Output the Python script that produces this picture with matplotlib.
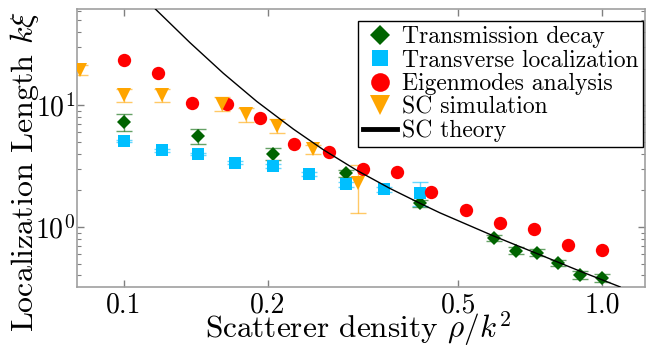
import matplotlib
matplotlib.use("Agg")
import matplotlib.pyplot as plt
from matplotlib.ticker import FixedLocator, FixedFormatter, NullLocator, LogLocator

plt.rcParams["font.family"] = "serif"
plt.rcParams["font.serif"] = ["cmr10"]
plt.rcParams["mathtext.fontset"] = "cm"
plt.rcParams["axes.unicode_minus"] = False

# Transmission decay
x_td = [0.1, 0.143, 0.205, 0.292, 0.416, 0.594, 0.66, 0.73, 0.807, 0.897, 1.0]
y_td = [7.3, 5.6, 4.0, 2.75, 1.56, 0.817, 0.64, 0.616, 0.51, 0.404, 0.384]
e_td = [1.2, 0.8, 0.47, 0.2, 0.1, 0.05, 0.04, 0.04, 0.03, 0.03, 0.03]

# Transverse localization
x_tl = [0.1, 0.12, 0.143, 0.171, 0.205, 0.244, 0.292, 0.349, 0.416]
y_tl = [5.1, 4.25, 3.97, 3.37, 3.18, 2.72, 2.25, 2.04, 1.91]
e_tl = [0.1, 0.1, 0.1, 0.1, 0.1, 0.1, 0.1, 0.1, 0.43]

# Eigenmodes analysis
x_eig = [0.1, 0.118, 0.139, 0.164, 0.193, 0.227, 0.268, 0.316, 0.373, 0.439, 0.518, 0.611, 0.72, 0.848, 1.0]
y_eig = [23.4, 18.4, 10.5, 10.3, 7.8, 4.85, 4.1, 2.98, 2.84, 1.95, 1.38, 1.07, 0.96, 0.71, 0.645]

# SC simulation
x_sc = [0.081, 0.1, 0.12, 0.16, 0.18, 0.209, 0.249, 0.309]
y_sc = [19.6, 12.1, 12.2, 10.3, 8.4, 6.8, 4.34, 2.28]
e_sc = [2.0, 1.5, 1.5, 1.3, 1.1, 0.9, 0.4, 0.97]

# SC theory curve
x_th = [0.1163, 0.1374, 0.1614, 0.1895, 0.2261, 0.2612, 0.3068, 0.3602, 0.4228, 0.458, 0.593, 0.742, 0.899, 1.09]
y_th = [61.8, 32.7, 18.3, 10.76, 6.37, 4.31, 2.92, 2.07, 1.517, 1.306, 0.843, 0.59, 0.4335, 0.322]

green = "#006400"
blue = "#00BFFF"
red = "#FF0000"
orange = "#FFA500"

fig = plt.figure(figsize=(6.51, 3.45), dpi=100)
ax = fig.add_axes([0.118, 0.168, 0.873, 0.806])
ax.set_xscale("log")
ax.set_yscale("log")

ebkw = dict(fmt="none", elinewidth=1.0, capsize=5.5, capthick=1.0, alpha=0.6)
ax.errorbar(x_td, y_td, yerr=e_td, ecolor=green, **ebkw)
ax.errorbar(x_tl, y_tl, yerr=e_tl, ecolor=blue, **ebkw)
ax.errorbar(x_sc, y_sc, yerr=e_sc, ecolor=orange, **ebkw)

ax.plot(x_td, y_td, "D", color=green, ms=7.5, mew=0, label="Transmission decay", zorder=3)
ax.plot(x_tl, y_tl, "s", color=blue, ms=8.6, mew=0, label="Transverse localization", zorder=3)
ax.plot(x_eig, y_eig, "o", color=red, ms=9.6, mew=0, label="Eigenmodes analysis", zorder=3)
ax.plot(x_sc, y_sc, "v", color=orange, ms=10.5, mew=0, label="SC simulation", zorder=3)
ax.plot(x_th, y_th, "-", color="black", lw=1.0, label="SC theory", zorder=4)

ax.set_xlim(0.0797, 1.23)
ax.set_ylim(0.321, 61.8)

ax.xaxis.set_major_locator(FixedLocator([0.1, 0.2, 0.5, 1.0]))
ax.xaxis.set_major_formatter(FixedFormatter(["0.1", "0.2", "0.5", "1.0"]))
ax.xaxis.set_minor_locator(NullLocator())
ax.yaxis.set_major_locator(FixedLocator([1.0, 10.0]))
ax.yaxis.set_major_formatter(FixedFormatter([r"$10^{0}$", r"$10^{1}$"]))
ax.yaxis.set_minor_locator(LogLocator(base=10, subs=range(2, 10)))

ax.tick_params(which="both", direction="in", top=True, right=True, labelsize=20, color="#808080")
ax.tick_params(which="major", length=5, width=1)
ax.tick_params(which="minor", length=3, width=0.8)
ax.tick_params(axis="y", pad=1)
for s in ax.spines.values():
    s.set_color("#a0a0a0")
    s.set_linewidth(1.2)

ax.set_xlabel(r"Scatterer density $\rho/k^2$", fontsize=22.5)
ax.set_ylabel(r"Localization Length $k\xi$", fontsize=23)
ax.xaxis.label.set_va("baseline")
ax.yaxis.label.set_va("baseline")
ax.xaxis.set_label_coords(358 / 651, 1 - 339 / 345, transform=fig.transFigure)
ax.yaxis.set_label_coords(33 / 651, 1 - 171 / 345, transform=fig.transFigure)

leg = ax.legend(loc="upper right", bbox_to_anchor=(0.996, 0.955), borderaxespad=0,
                fontsize=17, numpoints=1, markerscale=1.4, handlelength=1.45,
                handletextpad=0.2, labelspacing=0.05, borderpad=0.2,
                fancybox=False, framealpha=1, edgecolor="black")
leg.get_frame().set_linewidth(1.0)
leg.get_lines()[-1].set_linewidth(3.5)

fig.savefig("out.png", dpi=100)
